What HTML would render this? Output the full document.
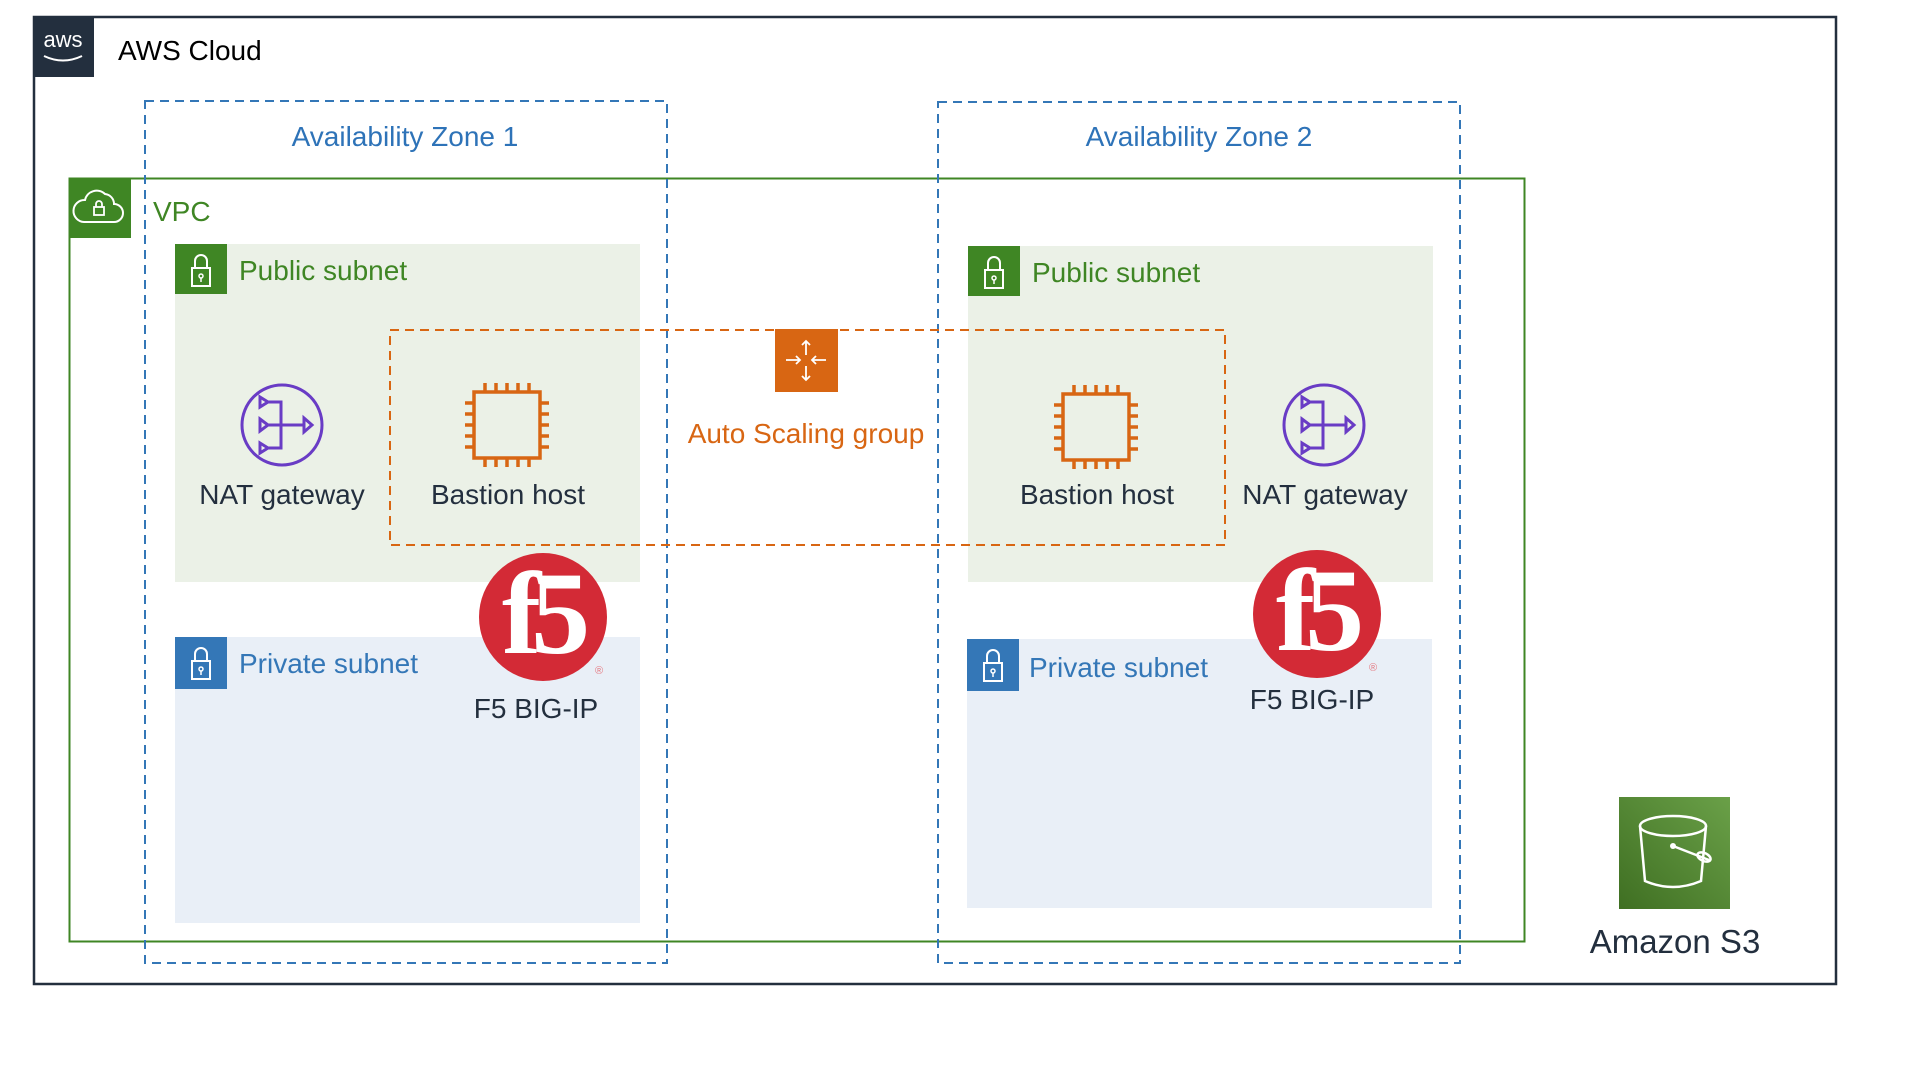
<!DOCTYPE html>
<html><head><meta charset="utf-8"><style>
html,body{margin:0;padding:0;background:#fff;width:1924px;height:1080px;overflow:hidden}
text{font-family:"Liberation Sans",Arial,sans-serif}
</style></head><body>
<svg width="1924" height="1080" viewBox="0 0 1924 1080" xmlns="http://www.w3.org/2000/svg">
<defs>
<linearGradient id="s3g" x1="0" y1="1" x2="1" y2="0"><stop offset="0" stop-color="#3f6f22"/><stop offset="1" stop-color="#6aa048"/></linearGradient>
<g id="nat"><circle cx="0" cy="0" r="40" fill="none" stroke="#693cc5" stroke-width="3"/>
<g fill="none" stroke="#693cc5" stroke-width="3"><path d="M-22,-28 L-14,-23 L-22,-18Z M-22,-6 L-14,0 L-22,6Z M-22,18 L-14,23 L-22,28Z M-14,-23 H-1 V23 H-14 M-14,0 H22 M22,-7 L30,0 L22,7Z"/></g></g>
<g id="chip" fill="none" stroke="#d86613" stroke-width="3.5"><rect x="-33" y="-33" width="66" height="66"/>
<path d="M-22,-33v-9M-11,-33v-9M0,-33v-9M11,-33v-9M22,-33v-9M-22,33v9M-11,33v9M0,33v9M11,33v9M22,33v9M-33,-22h-9M-33,-11h-9M-33,0h-9M-33,11h-9M-33,22h-9M33,-22h9M33,-11h9M33,0h9M33,11h9M33,22h9"/></g>
<g id="f5"><circle cx="0" cy="0" r="64" fill="#d32a36"/>
<text x="-2" y="36" text-anchor="middle" style="font-family:'Liberation Serif',serif;font-weight:bold;font-size:118px" fill="#fff" letter-spacing="-10">f5</text>
<text x="52" y="57" font-size="11" fill="#e57a82">®</text></g>
<g id="lock"><path d="M-6,-4 v-7 a6,6 0 0 1 12,0 v7" fill="none" stroke="#fff" stroke-width="2"/><rect x="-9" y="-4" width="18" height="18" fill="none" stroke="#fff" stroke-width="2"/><circle cx="0" cy="4" r="2" fill="none" stroke="#fff" stroke-width="1.5"/><path d="M0,6v4" stroke="#fff" stroke-width="1.5"/></g>
</defs>
<rect x="34" y="17" width="1802" height="967" fill="none" stroke="#232f3e" stroke-width="2.5"/>
<rect x="33" y="16" width="61" height="61" fill="#232f3e"/>
<text x="63" y="47" text-anchor="middle" font-size="22" fill="#fff">aws</text>
<path d="M44,56 q19,9 38,0" fill="none" stroke="#fff" stroke-width="2"/>
<text x="118" y="60" font-size="28" fill="#000">AWS Cloud</text>
<rect x="175" y="244" width="465" height="338" fill="#ebf1e7"/>
<rect x="175" y="637" width="465" height="286" fill="#e9eff7"/>
<rect x="968" y="246" width="465" height="336" fill="#ebf1e7"/>
<rect x="967" y="639" width="465" height="269" fill="#e9eff7"/>
<rect x="69.5" y="178.5" width="1455" height="763" fill="none" stroke="#3f8624" stroke-width="2"/>
<rect x="69" y="178" width="62" height="60" fill="#3f8624"/>
<path d="M84,222 h30 a9,9 0 0 0 0,-18 a10,10 0 0 0 -9,-10 a12,12 0 0 0 -20,6 a8,8 0 0 0 -1,22z" fill="none" stroke="#fff" stroke-width="2"/>
<rect x="94" y="207" width="10" height="8" fill="none" stroke="#fff" stroke-width="1.8"/><path d="M96,207v-3a3,3 0 0 1 6,0v3" fill="none" stroke="#fff" stroke-width="1.8"/>
<text x="153" y="221" font-size="28" fill="#3f8624">VPC</text>
<rect x="175" y="244" width="52" height="50" fill="#3f8624"/><use href="#lock" x="201" y="272"/>
<text x="239" y="280" font-size="28" fill="#3f8624">Public subnet</text>
<rect x="968" y="246" width="52" height="50" fill="#3f8624"/><use href="#lock" x="994" y="274"/>
<text x="1032" y="282" font-size="28" fill="#3f8624">Public subnet</text>
<rect x="175" y="637" width="52" height="52" fill="#3477b7"/><use href="#lock" x="201" y="665"/>
<text x="239" y="673" font-size="28" fill="#3477b7">Private subnet</text>
<rect x="967" y="639" width="52" height="52" fill="#3477b7"/><use href="#lock" x="993" y="667"/>
<text x="1029" y="677" font-size="28" fill="#3477b7">Private subnet</text>
<rect x="145" y="101" width="522" height="862" fill="none" stroke="#3477b7" stroke-width="2" stroke-dasharray="9,6"/>
<rect x="938" y="102" width="522" height="861" fill="none" stroke="#3477b7" stroke-width="2" stroke-dasharray="9,6"/>
<text x="405" y="146" text-anchor="middle" font-size="28" fill="#2e73b8">Availability Zone 1</text>
<text x="1199" y="146" text-anchor="middle" font-size="28" fill="#2e73b8">Availability Zone 2</text>
<rect x="390" y="330" width="835" height="215" fill="none" stroke="#d86613" stroke-width="2" stroke-dasharray="9,6"/>
<rect x="775" y="329" width="63" height="63" fill="#d86613"/>
<g stroke="#fff" stroke-width="1.8" fill="none"><path d="M806,341v14M802,345l4,-4l4,4M806,380v-14M802,376l4,4l4,-4M786,360h14M796,356l4,4l-4,4M826,360h-14M816,356l-4,4l4,4"/></g>
<text x="806" y="443" text-anchor="middle" font-size="28" fill="#d86613">Auto Scaling group</text>
<use href="#nat" x="282" y="425"/>
<text x="282" y="504" text-anchor="middle" font-size="28" fill="#232f3e">NAT gateway</text>
<use href="#chip" x="507" y="425"/>
<text x="508" y="504" text-anchor="middle" font-size="28" fill="#232f3e">Bastion host</text>
<use href="#chip" x="1096" y="427"/>
<text x="1097" y="504" text-anchor="middle" font-size="28" fill="#232f3e">Bastion host</text>
<use href="#nat" x="1324" y="425"/>
<text x="1325" y="504" text-anchor="middle" font-size="28" fill="#232f3e">NAT gateway</text>
<use href="#f5" x="543" y="617"/>
<text x="536" y="718" text-anchor="middle" font-size="28" fill="#232f3e">F5 BIG-IP</text>
<use href="#f5" x="1317" y="614"/>
<text x="1312" y="709" text-anchor="middle" font-size="28" fill="#232f3e">F5 BIG-IP</text>
<rect x="1619" y="797" width="111" height="112" fill="url(#s3g)"/>
<g fill="none" stroke="#fff" stroke-width="2.5"><ellipse cx="1673" cy="826" rx="33" ry="10"/><path d="M1640,826 l5,55 q28,12 56,0 l5,-55"/><path d="M1673,846 l36,14"/><ellipse cx="1704" cy="857" rx="4" ry="7" transform="rotate(-65 1704 857)"/></g>
<circle cx="1673" cy="846" r="3" fill="#fff"/>
<text x="1675" y="953" text-anchor="middle" font-size="33" fill="#232f3e">Amazon S3</text>
</svg>
</body></html>
